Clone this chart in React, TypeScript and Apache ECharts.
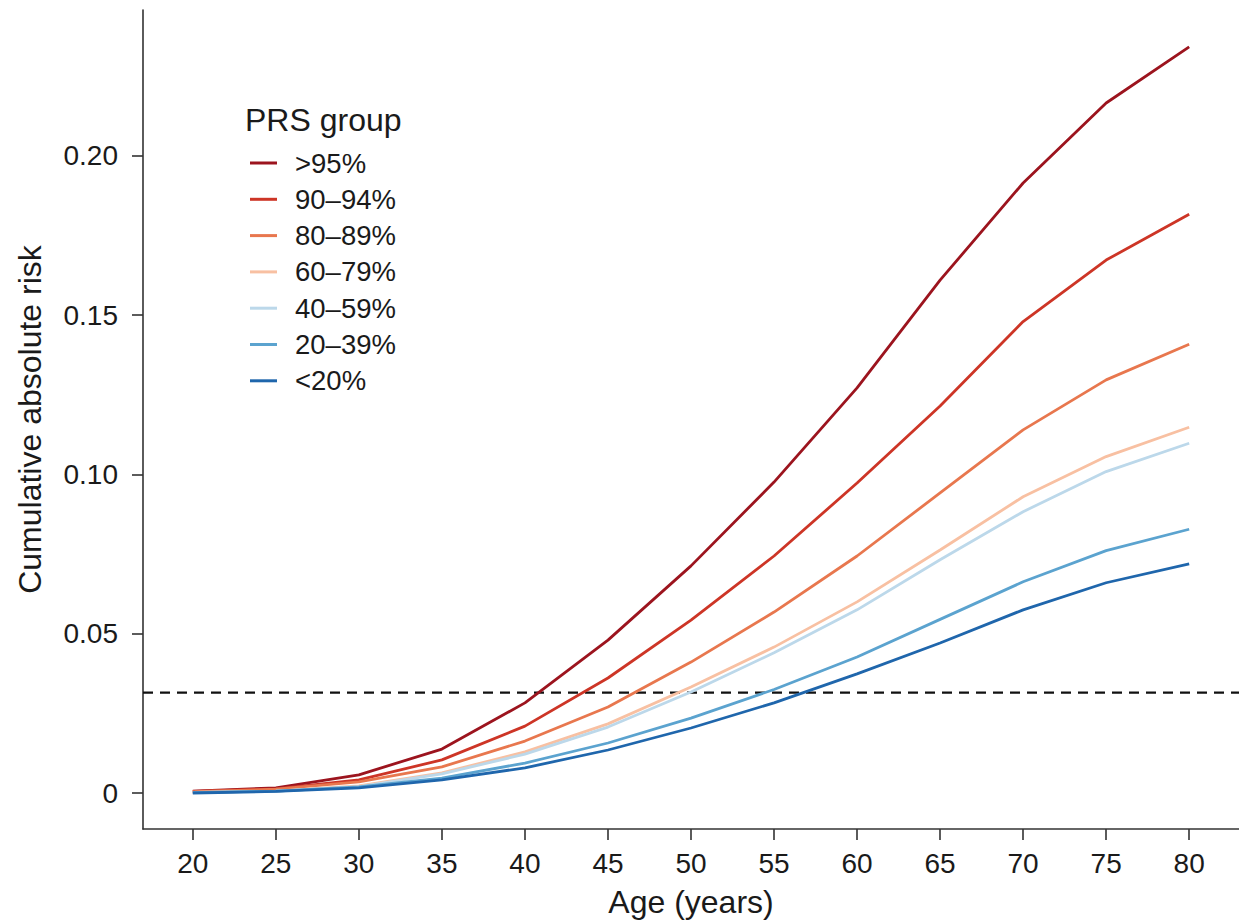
import React, { useEffect, useRef } from "react";
import * as echarts from "echarts";

const ages = [20, 25, 30, 35, 40, 45, 50, 55, 60, 65, 70, 75, 80];
const groupNames = [">95%", "90–94%", "80–89%", "60–79%", "40–59%", "20–39%", "<20%"];
const groupColors = ["#9c141e", "#cd3526", "#e8774e", "#f8c0a2", "#bcd8ea", "#5ba3cf", "#1f66ac"];

const riskTop5 = [0.0006, 0.0016, 0.0057, 0.0138, 0.0283, 0.048, 0.0713, 0.0976, 0.1272, 0.161, 0.1915, 0.2166, 0.2342];
const risk90to94 = [0.0005, 0.0013, 0.0041, 0.0104, 0.021, 0.0361, 0.0543, 0.0744, 0.0973, 0.1215, 0.148, 0.1673, 0.1817];
const risk80to89 = [0.0004, 0.0012, 0.0035, 0.0082, 0.0163, 0.027, 0.0411, 0.0568, 0.0744, 0.0942, 0.114, 0.1297, 0.1409];
const risk60to79 = [0.0002, 0.0006, 0.0022, 0.0063, 0.0129, 0.0217, 0.0333, 0.0458, 0.06, 0.0763, 0.093, 0.1056, 0.1148];
const risk40to59 = [0.0002, 0.0006, 0.002, 0.006, 0.0122, 0.0207, 0.0317, 0.044, 0.0575, 0.0732, 0.0883, 0.1009, 0.1098];
const risk20to39 = [0.0001, 0.0006, 0.0019, 0.0047, 0.0094, 0.0157, 0.0235, 0.0325, 0.0427, 0.0545, 0.0663, 0.0761, 0.0828];
const riskBelow20 = [0.0, 0.0005, 0.0016, 0.0041, 0.0079, 0.0135, 0.0204, 0.0283, 0.0374, 0.0471, 0.0575, 0.066, 0.0719];
const groupRisks = [riskTop5, risk90to94, risk80to89, risk60to79, risk40to59, risk20to39, riskBelow20];

const thresholdRisk = 0.0315;
const xRange = [17, 83];
const xTicks = [20, 25, 30, 35, 40, 45, 50, 55, 60, 65, 70, 75, 80];
const yTicks = [0, 0.05, 0.1, 0.15, 0.2];

const FONT = "Liberation Sans";

export default function App() {
  const ref = useRef<HTMLDivElement>(null);
  useEffect(() => {
    if (!ref.current) return;
    const chart = echarts.init(ref.current, null, { renderer: "svg" });
    const series: any[] = [
      {
        name: "threshold",
        type: "line",
        data: xRange.map((x) => [x, thresholdRisk]),
        symbol: "none",
        silent: true,
        lineStyle: { color: "#111", width: 2.4, type: [10, 7] },
        itemStyle: { color: "#111" },
        z: 1,
      },
      ...groupNames.map((name, i) => ({
        name,
        type: "line",
        data: ages.map((a, j) => [a, groupRisks[i][j]]),
        symbol: "none",
        lineStyle: { color: groupColors[i], width: 2.8 },
        itemStyle: { color: groupColors[i] },
        z: 2 + i,
      })),
    ];
    chart.setOption({
      animation: false,
      backgroundColor: "#fff",
      textStyle: { fontFamily: FONT },
      grid: { left: 143, right: 0, top: 10, bottom: 94, containLabel: false },
      xAxis: {
        type: "value",
        min: xRange[0],
        max: xRange[1],
        name: "Age (years)",
        nameLocation: "middle",
        nameGap: 57,
        nameTextStyle: { fontSize: 32, color: "#1a1a1a", fontFamily: FONT },
        axisLine: { show: true, onZero: false, lineStyle: { color: "#333", width: 1.6 } },
        axisTick: { show: true, length: 11, customValues: xTicks, lineStyle: { color: "#333", width: 1.6 } },
        axisLabel: { customValues: xTicks, fontSize: 28, color: "#1a1a1a", margin: 20, fontFamily: FONT },
        splitLine: { show: false },
      },
      yAxis: {
        type: "value",
        min: -0.0113,
        max: 0.2458,
        name: "Cumulative absolute risk",
        nameLocation: "middle",
        nameGap: 97,
        nameTextStyle: { fontSize: 32, color: "#1a1a1a", fontFamily: FONT },
        axisLine: { show: true, onZero: false, lineStyle: { color: "#333", width: 1.6 } },
        axisTick: { show: true, length: 11, customValues: yTicks, lineStyle: { color: "#333", width: 1.6 } },
        axisLabel: {
          customValues: yTicks,
          fontSize: 28,
          color: "#1a1a1a",
          margin: 25,
          fontFamily: FONT,
          formatter: (v: number) => (v === 0 ? "0" : v.toFixed(2)),
        },
        splitLine: { show: false },
      },
      legend: {
        orient: "vertical",
        left: 250,
        top: 148,
        padding: 0,
        icon: "rect",
        itemWidth: 27,
        itemHeight: 3,
        itemGap: 6.3,
        data: groupNames,
        textStyle: { fontSize: 27.5, color: "#1a1a1a", lineHeight: 30, padding: [0, 0, 0, 13], fontFamily: FONT },
      },
      graphic: [
        {
          type: "text",
          left: 245,
          top: 104,
          style: { text: "PRS group", fontSize: 32, fill: "#1a1a1a", fontFamily: FONT },
        },
      ],
      series,
    });
    return () => chart.dispose();
  }, []);
  return <div ref={ref} style={{ position: "fixed", left: 0, top: 0, width: 1239, height: 923 }} />;
}
